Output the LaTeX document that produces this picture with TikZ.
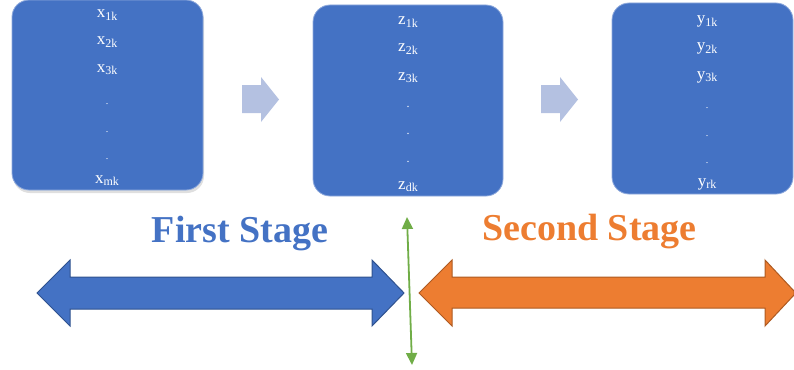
\documentclass[tikz,border=0pt]{standalone}
\usepackage{fontspec}
\setmainfont{Liberation Serif}
\usetikzlibrary{arrows.meta}
\definecolor{boxblue}{HTML}{4472C4}
\definecolor{boxedge}{HTML}{8FAADC}
\definecolor{paleblue}{HTML}{B4C1E1}
\definecolor{darkblue}{HTML}{2F528F}
\definecolor{orng}{HTML}{ED7D31}
\definecolor{darkorng}{HTML}{AE5A21}
\definecolor{grn}{HTML}{70AD47}
\newcommand\vlab[2]{#1\raisebox{-0.35ex}{\fontsize{12}{12}\selectfont #2}}
\tikzset{
  databox/.style={draw=boxedge, line width=0.8pt, fill=boxblue, rounded corners=17pt},
  entry/.style={text=white, font=\fontsize{17}{17}\selectfont, anchor=base, inner sep=0pt},
  pale/.style={fill=paleblue, draw=none},
  bigarrow/.style={line width=1pt, line join=miter},
  stagetext/.style={font=\bfseries\fontsize{38}{38}\selectfont, anchor=base, inner sep=0pt},
  divider/.style={draw=grn, line width=1.8pt, {Triangle[width=11pt,length=12pt]}-{Triangle[width=11pt,length=12pt]}}
}
\begin{document}
\begin{tikzpicture}[x=1pt,y=-1pt]
\useasboundingbox (0,0) rectangle (794,369);
% boxes
\fill[gray!25] (13,3) [rounded corners=17pt] rectangle (204,193);
\path[databox] (12,0) rectangle (203,190) node[pos=0.5] (b1) {};
\path[databox] (313,5) rectangle (503,196) node[pos=0.5] (b2) {};
\path[databox] (612,3) rectangle (793,194) node[pos=0.5] (b3) {};
% box 1 entries
\node[entry] (x1) at (107,18) {\vlab{x}{1k}};
\node[entry] (x2) at (107,45) {\vlab{x}{2k}};
\node[entry] (x3) at (107,72) {\vlab{x}{3k}};
\node[entry,font=\fontsize{10}{10}\selectfont] (xd1) at (107,104) {.};
\node[entry,font=\fontsize{10}{10}\selectfont] (xd2) at (107,132) {.};
\node[entry,font=\fontsize{10}{10}\selectfont] (xd3) at (107,159) {.};
\node[entry] (xm) at (107,183) {\vlab{x}{mk}};
% box 2 entries
\node[entry] (z1) at (408,25) {\vlab{z}{1k}};
\node[entry] (z2) at (408,52) {\vlab{z}{2k}};
\node[entry] (z3) at (408,80) {\vlab{z}{3k}};
\node[entry,font=\fontsize{12}{12}\selectfont] (zd1) at (408,107) {.};
\node[entry,font=\fontsize{12}{12}\selectfont] (zd2) at (408,134) {.};
\node[entry,font=\fontsize{12}{12}\selectfont] (zd3) at (408,162) {.};
\node[entry] (zd) at (408,189) {\vlab{z}{dk}};
% box 3 entries
\node[entry] (y1) at (707,24) {\vlab{y}{1k}};
\node[entry] (y2) at (707,51) {\vlab{y}{2k}};
\node[entry] (y3) at (707,79) {\vlab{y}{3k}};
\node[entry,font=\fontsize{10}{10}\selectfont] (yd1) at (707,108) {.};
\node[entry,font=\fontsize{10}{10}\selectfont] (yd2) at (707,136) {.};
\node[entry,font=\fontsize{10}{10}\selectfont] (yd3) at (707,163) {.};
\node[entry] (yr) at (707,186) {\vlab{y}{rk}};
% pale block arrows between boxes
\path[pale] (242,85) -- (261,85) -- (261,77) -- (279,99.5) -- (261,122) -- (261,113) -- (242,113) -- cycle;
\path[pale] (541,85) -- (560,85) -- (560,77) -- (578,99.5) -- (560,122) -- (560,113) -- (541,113) -- cycle;
% stage labels
\node[stagetext, text=boxblue] (s1) at (240,242) {First Stage};
\node[stagetext, text=orng] (s2) at (589.5,240) {Second Stage};
% big double arrows
\draw[bigarrow, fill=boxblue, draw=darkblue] (37,293) -- (70,260) -- (70,277) -- (372,277) -- (372,260) -- (404,293) -- (372,326) -- (372,309) -- (70,309) -- (70,326) -- cycle;
\draw[bigarrow, fill=orng, draw=darkorng] (419,293) -- (452,260) -- (452,277) -- (765,277) -- (765,260) -- (794,291) -- (794,295) -- (765,326) -- (765,308) -- (452,308) -- (452,326) -- cycle;
% green divider
\coordinate (gtop) at (407,217);
\coordinate (gbot) at (412,365);
\draw[divider] (gtop) -- (gbot);
\end{tikzpicture}
\end{document}
